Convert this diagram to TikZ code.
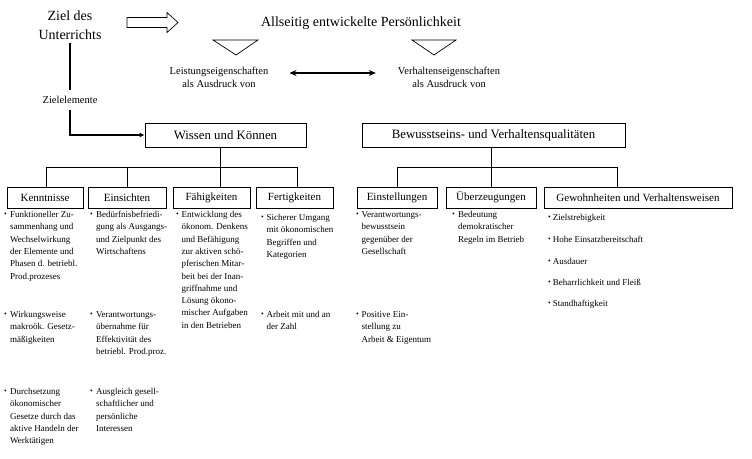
\documentclass[tikz,border=0pt]{standalone}
\usepackage{fontspec}
\setmainfont{Liberation Serif}
\usetikzlibrary{arrows.meta}
\newcommand\bu{\raisebox{0.15ex}{\scalebox{0.85}{\textbullet}}}
\begin{document}
\begin{tikzpicture}[x=1pt,y=-1pt,
  box/.style={draw,line width=0.8pt,inner sep=0pt,font=\fontsize{12.8}{15}\selectfont},
  sbox/.style={draw,line width=0.8pt,inner sep=0pt,minimum height=21pt,font=\fontsize{11}{13}\selectfont},
  bl/.style={anchor=base west,inner sep=0pt,font=\fontsize{9}{12.3}\selectfont},
  small/.style={inner sep=0pt,align=center,font=\fontsize{10.5}{13}\selectfont},
  tree/.style={line width=0.8pt},
  thickl/.style={line width=2pt}]
\useasboundingbox (0,0) rectangle (752,458);
% top
\node[inner sep=0pt,align=center,font=\fontsize{14}{19}\selectfont] (ziel) at (70,25) {Ziel des\\Unterrichts};
\node[inner sep=0pt,font=\fontsize{14}{17}\selectfont] (pers) at (361,23) {Allseitig entwickelte Persönlichkeit};
\draw[line width=0.7pt] (127,17.5)--(167,17.5)--(167,12.5)--(178,22.5)--(167,32.5)--(167,27.5)--(127,27.5)--cycle;
\draw[line width=0.7pt] (213,40)--(258,40)--(236,55)--cycle;
\draw[line width=0.7pt] (412,40)--(456,40)--(434,55)--cycle;
\node[small] (leist) at (219,77.5) {Leistungseigenschaften\\als Ausdruck von};
\node[small] (verh) at (449,77.5) {Verhaltenseigenschaften\\als Ausdruck von};
\draw[line width=1.4pt,{Stealth[length=7pt,width=6pt]}-{Stealth[length=7pt,width=6pt]}]
  ([xshift=21pt,yshift=4.5pt]leist.east) -- ([xshift=-22pt,yshift=4.5pt]verh.west);
\node[small,inner ysep=6pt] (zel) at (70,100) {Zielelemente};
% main boxes
\node[box,minimum width=161pt,minimum height=24pt] (wk) at (225.5,135) {Wissen und Können};
\node[box,minimum width=263pt,minimum height=24pt] (bv) at (493.5,135) {Bewusstseins- und Verhaltensqualitäten};
\draw[thickl] ([yshift=-3pt]ziel.south) -- (zel.north);
\draw[thickl,-{Latex[length=5pt,width=5pt]}] (zel.south) |- (wk.west);
% child boxes
\node[sbox,minimum width=76pt] (kenn) at (45,197.5) {Kenntnisse};
\node[sbox,minimum width=78pt] (ein) at (127,197.5) {Einsichten};
\node[sbox,minimum width=77pt] (fae) at (211.5,197.5) {Fähigkeiten};
\node[sbox,minimum width=77pt] (fert) at (294.5,197.5) {Fertigkeiten};
\node[sbox,minimum width=80pt] (einst) at (397,197.5) {Einstellungen};
\node[sbox,minimum width=90pt] (ueb) at (491,197.5) {Überzeugungen};
\node[sbox,minimum width=188pt] (gew) at (638,197.5) {Gewohnheiten und Verhaltensweisen};
\coordinate (bar) at (0,167);
% tree left
\draw[tree] ([xshift=1pt]kenn.north) -- ([xshift=1pt]kenn.north |- bar) -- ([xshift=3pt]fert.north |- bar) -- ([xshift=3pt]fert.north);
\draw[tree] (ein.north) -- (ein.north |- bar);
\draw[tree] ([xshift=9pt]fae.north |- wk.south) -- ([xshift=9pt]fae.north);
% tree right
\draw[tree] (einst.north) -- (einst.north |- bar) -- ([xshift=-21pt]gew.north |- bar) -- ([xshift=-21pt]gew.north);
\draw[tree] (bv.south -| ueb.north) -- (ueb.north);
% bullet texts
\node[bl] (k1) at (4,217.5) {\begin{tabular}[t]{@{}p{6pt}@{}l@{}}\bu & Funktioneller Zu-\\ & sammenhang und\\ & Wechselwirkung\\ & der Elemente und\\ & Phasen d. betriebl.\\ & Prod.prozeses\end{tabular}};
\node[bl] (k2) at (4,317.5) {\begin{tabular}[t]{@{}p{6pt}@{}l@{}}\bu & Wirkungsweise\\ & makroök. Gesetz-\\ & mäßigkeiten\end{tabular}};
\node[bl] (k3) at (4,394.5) {\begin{tabular}[t]{@{}p{6pt}@{}l@{}}\bu & Durchsetzung\\ & ökonomischer\\ & Gesetze durch das\\ & aktive Handeln der\\ & Werktätigen\end{tabular}};
\node[bl] (e1) at (90,217.5) {\begin{tabular}[t]{@{}p{6pt}@{}l@{}}\bu & Bedürfnisbefriedi-\\ & gung als Ausgangs-\\ & und Zielpunkt des\\ & Wirtschaftens\end{tabular}};
\node[bl] (e2) at (90,317.5) {\begin{tabular}[t]{@{}p{6pt}@{}l@{}}\bu & Verantwortungs-\\ & übernahme für\\ & Effektivität des\\ & betriebl. Prod.proz.\end{tabular}};
\node[bl] (e3) at (90,394.5) {\begin{tabular}[t]{@{}p{6pt}@{}l@{}}\bu & Ausgleich gesell-\\ & schaftlicher und\\ & persönliche\\ & Interessen\end{tabular}};
\node[bl] (f1) at (176,217.5) {\begin{tabular}[t]{@{}p{5.5pt}@{}l@{}}\bu & Entwicklung des\\ & ökonom. Denkens\\ & und Befähigung\\ & zur aktiven schö-\\ & pferischen Mitar-\\ & beit bei der Inan-\\ & griffnahme und\\ & Lösung ökono-\\ & mischer Aufgaben\\ & in den Betrieben\end{tabular}};
\node[bl] (g1) at (261,220.5) {\begin{tabular}[t]{@{}p{5.5pt}@{}l@{}}\bu & Sicherer Umgang\\ & mit ökonomischen\\ & Begriffen und\\ & Kategorien\end{tabular}};
\node[bl] (g2) at (261,317.5) {\begin{tabular}[t]{@{}p{5.5pt}@{}l@{}}\bu & Arbeit mit und an\\ & der Zahl\end{tabular}};
\node[bl] (s1) at (356,217.5) {\begin{tabular}[t]{@{}p{5.5pt}@{}l@{}}\bu & Verantwortungs-\\ & bewusstsein\\ & gegenüber der\\ & Gesellschaft\end{tabular}};
\node[bl] (s2) at (356,317.5) {\begin{tabular}[t]{@{}p{5.5pt}@{}l@{}}\bu & Positive Ein-\\ & stellung zu\\ & Arbeit \& Eigentum\end{tabular}};
\node[bl] (u1) at (452,217.5) {\begin{tabular}[t]{@{}p{6pt}@{}l@{}}\bu & Bedeutung\\ & demokratischer\\ & Regeln im Betrieb\end{tabular}};
\node[bl] (w1) at (548,220.5) {\bu\hspace{2pt}Zielstrebigkeit};
\node[bl] (w2) at (548,242.5) {\bu\hspace{2pt}Hohe Einsatzbereitschaft};
\node[bl] (w3) at (548,264.5) {\bu\hspace{2pt}Ausdauer};
\node[bl] (w4) at (548,285.5) {\bu\hspace{2pt}Beharrlichkeit und Fleiß};
\node[bl] (w5) at (548,306.5) {\bu\hspace{2pt}Standhaftigkeit};
\end{tikzpicture}
\end{document}
